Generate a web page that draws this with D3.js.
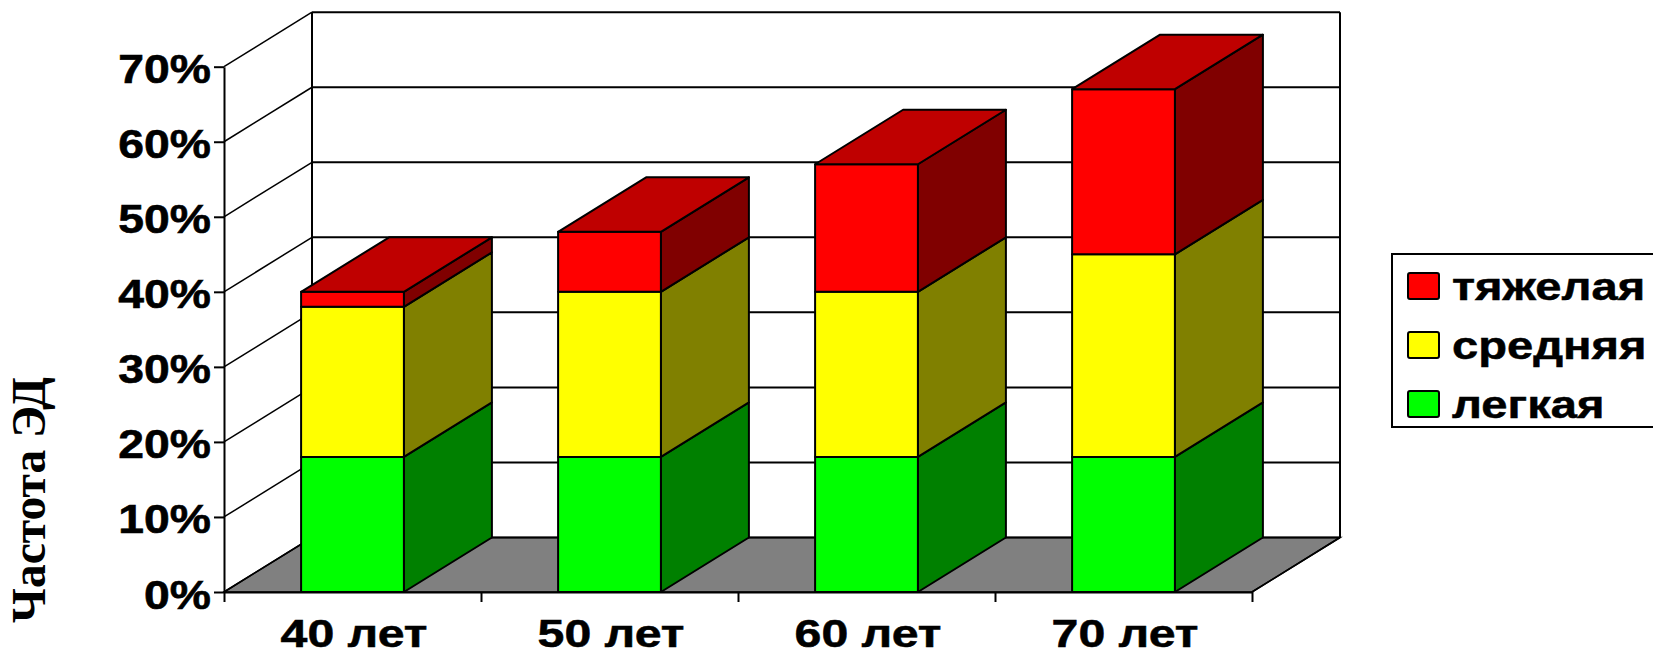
<!DOCTYPE html>
<html><head><meta charset="utf-8">
<script src="https://cdn.jsdelivr.net/npm/d3@7"></script>
<style>html,body{margin:0;padding:0;background:#fff;overflow:hidden}svg{display:block}</style>
</head><body>
<script>
const categories = ["40 лет","50 лет","60 лет","70 лет"];
const seriesNames = ["легкая","средняя","тяжелая"];
const light  = [18,18,18,18];
const medium = [20,22,22,27];
const severe = [2,8,17,22];
const yTicks = [0,10,20,30,40,50,60,70];
const frontColors = ["#00ff00","#ffff00","#ff0000"];
const sideColors  = ["#008000","#808000","#800000"];
const topColor = "#bf0000";
const wallFloor = "#808080";

const W=1653,H=655;
const svg=d3.select("body").append("svg").attr("width",W).attr("height",H).attr("viewBox",`0 0 ${W} ${H}`);
const plot={l:224,r:1252,b:592,t:66.7};
const depth={x:88,y:-54.5};
const y=d3.scaleLinear().domain([0,70]).range([plot.b,plot.t]);
const x=d3.scaleBand().domain(categories).range([plot.l,plot.r]).paddingInner(0.6).paddingOuter(0.3);
const edges=d3.scaleLinear().domain([0,categories.length]).range([plot.l,plot.r]);
const ln=d3.line();
const sans="'Liberation Sans',Arial,sans-serif";
const stack=d3.stack().keys([0,1,2]).value((d,k)=>d[k])(categories.map((c,i)=>[light[i],medium[i],severe[i]]));

// floor
svg.append("path").attr("fill",wallFloor).attr("stroke","#000").attr("stroke-width",1.6)
 .attr("d",ln([[plot.l,plot.b],[plot.l+depth.x,plot.b+depth.y],[plot.r+depth.x,plot.b+depth.y],[plot.r,plot.b]])+"Z");

// gridlines
const grid=svg.append("g").attr("fill","none").attr("stroke","#000");
yTicks.forEach(t=>{
  grid.append("path").attr("stroke-width",1.5).attr("d",ln([[plot.l,y(t)],[plot.l+depth.x,y(t)+depth.y]]));
  grid.append("path").attr("stroke-width",2).attr("d",ln([[plot.l+depth.x,y(t)+depth.y],[plot.r+depth.x,y(t)+depth.y]]));
});
[plot.l+depth.x,plot.r+depth.x].forEach(px=>grid.append("path").attr("stroke-width",2)
  .attr("d",ln([[px,y(70)+depth.y],[px,y(0)+depth.y]])));
grid.append("path").attr("stroke-width",1.6).attr("d",ln([[plot.r,plot.b],[plot.r+depth.x,plot.b+depth.y]]));

// bars
const bars=svg.append("g").attr("stroke","#000").attr("stroke-width",2).attr("stroke-linejoin","round");
categories.forEach((c,i)=>{
  const x0=x(c),x1=x0+x.bandwidth();
  stack.forEach((s,k)=>{
    const y0=y(s[i][0]),y1=y(s[i][1]);
    bars.append("path").attr("fill",sideColors[k])
      .attr("d",ln([[x1,y0],[x1+depth.x,y0+depth.y],[x1+depth.x,y1+depth.y],[x1,y1]])+"Z");
    bars.append("rect").attr("x",x0).attr("y",y1).attr("width",x1-x0).attr("height",y0-y1).attr("fill",frontColors[k]);
  });
  const yt=y(stack[2][i][1]);
  bars.append("path").attr("fill",topColor)
    .attr("d",ln([[x0,yt],[x0+depth.x,yt+depth.y],[x1+depth.x,yt+depth.y],[x1,yt]])+"Z");
});

// axes
const yAxis=svg.append("g").attr("transform",`translate(${plot.l},0)`)
  .call(d3.axisLeft(y).tickValues(yTicks).tickSize(10).tickSizeOuter(0).tickFormat(d=>d+"%"));
yAxis.selectAll("path,line").attr("stroke","#000").attr("stroke-width",2);
yAxis.selectAll("text").attr("x",0).attr("dy",null).attr("y",0)
  .attr("text-anchor","end").attr("dominant-baseline","auto")
  .attr("transform","translate(-13,16) scale(1.13,1)")
  .attr("stroke","#000").attr("stroke-width",0.6)
  .style("font-family",sans).style("font-weight","bold").style("font-size","41px").attr("fill","#000");

const xTicks=svg.append("g").attr("transform",`translate(0,${plot.b})`)
  .call(d3.axisBottom(edges).ticks(categories.length).tickSize(10).tickSizeOuter(0).tickFormat(""));
xTicks.selectAll("path,line").attr("stroke","#000").attr("stroke-width",2);
const xLabels=svg.append("g").attr("transform",`translate(0,${plot.b})`)
  .call(d3.axisBottom(x).tickSize(0));
xLabels.select("path").remove();
xLabels.selectAll("text").attr("y",0).attr("dy",null)
  .attr("transform","translate(1.5,55) scale(1.27,1)")
  .attr("stroke","#000").attr("stroke-width",0.5)
  .style("font-family",sans).style("font-weight","bold").style("font-size","38px").attr("fill","#000");

// axis title
svg.append("text").attr("transform","translate(45,500) rotate(-90)").attr("text-anchor","middle")
  .style("font-family","'Liberation Serif','Times New Roman',serif").style("font-weight","bold")
  .style("font-size","47.5px").attr("fill","#000").text("Частота ЭД");

// legend
const lg=svg.append("g");
lg.append("path").attr("fill","#fff").attr("stroke","#000").attr("stroke-width",2)
  .attr("d",ln([[W,254],[1392,254],[1392,427],[W,427]]));
const order=[2,1,0];
const rowY=d3.scalePoint().domain(order).range([286,404]);
order.forEach(k=>{
  lg.append("rect").attr("x",1408).attr("y",rowY(k)-13).attr("width",31).attr("height",26).attr("rx",2)
    .attr("fill",frontColors[k]).attr("stroke","#000").attr("stroke-width",2);
  lg.append("text").attr("transform",`translate(1452,${rowY(k)+14}) scale(1.24,1)`)
    .attr("stroke","#000").attr("stroke-width",0.5)
    .style("font-family",sans).style("font-weight","bold").style("font-size","38px").attr("fill","#000").text(seriesNames[k]);
});
</script>
</body></html>
